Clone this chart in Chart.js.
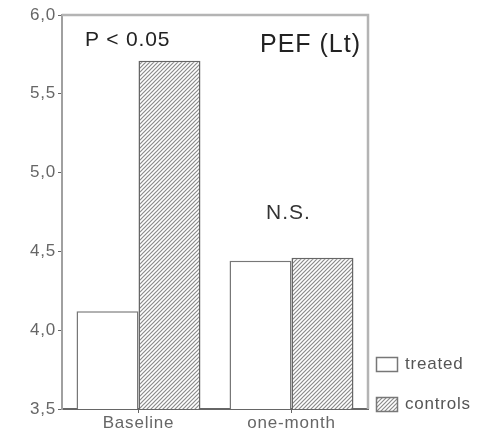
<!DOCTYPE html>
<html>
<head>
<meta charset="utf-8">
<script src="https://cdn.jsdelivr.net/npm/chart.js@4/dist/chart.umd.min.js"></script>
<style>
html,body{margin:0;padding:0;background:#fff;}
#wrap{width:477px;height:436px;position:relative;}
</style>
</head>
<body>
<div id="wrap"><canvas id="c" width="477" height="436"></canvas></div>
<script>
const categories = ["Baseline", "one-month"];
const treated = [4.12, 4.44];
const controls = [5.71, 4.46];
const yTicks = [3.5, 4.0, 4.5, 5.0, 5.5, 6.0];
const seriesNames = ["treated", "controls"];

function hatch() {
  const p = document.createElement('canvas');
  p.width = 4; p.height = 4;
  const g = p.getContext('2d');
  g.fillStyle = '#ffffff';
  g.fillRect(0, 0, 4, 4);
  g.strokeStyle = '#8a8a8a';
  g.lineWidth = 1.2;
  g.beginPath();
  g.moveTo(0, 4); g.lineTo(4, 0);
  g.moveTo(-1, 1); g.lineTo(1, -1);
  g.moveTo(3, 5); g.lineTo(5, 3);
  g.stroke();
  return g.createPattern(p, 'repeat');
}
const ctx = document.getElementById('c').getContext('2d');
const pat = hatch();
const FONT = "'Liberation Sans', Arial, sans-serif";
const LS = '0.8px';

const spacing = {
  id: 'spacing',
  beforeUpdate(chart) { chart.ctx.letterSpacing = LS; },
  beforeLayout(chart) { chart.ctx.letterSpacing = LS; },
  beforeDraw(chart) { chart.ctx.letterSpacing = LS; }
};

const extras = {
  id: 'extras',
  afterDraw(chart) {
    const c = chart.ctx, a = chart.chartArea;
    const x = chart.scales.x, y = chart.scales.y;
    c.save();
    // frame top and right
    c.strokeStyle = '#b4b4b4';
    c.lineWidth = 2.5;
    c.beginPath();
    c.moveTo(a.left, a.top); c.lineTo(a.right, a.top); c.lineTo(a.right, a.bottom);
    c.stroke();
    // annotations
    c.fillStyle = '#222';
    c.textBaseline = 'middle';
    c.textAlign = 'center';
    c.letterSpacing = '0.8px';
    c.font = "21px " + FONT;
    c.fillText('P < 0.05', x.getPixelForValue(0) - 11, y.getPixelForValue(5.84));
    c.letterSpacing = '1px';
    c.font = "25px " + FONT;
    c.fillText('PEF (Lt)', x.getPixelForValue(1) + 19, y.getPixelForValue(5.81));
    c.font = "21px " + FONT;
    c.fillStyle = '#333';
    c.fillText('N.S.', x.getPixelForValue(1) - 3, y.getPixelForValue(4.745));
    // legend
    const ds = chart.data.datasets;
    const lx = a.right + 8;
    const ly = [a.bottom - 45, a.bottom - 5];
    c.letterSpacing = LS;
    c.font = "17px " + FONT;
    c.textAlign = 'left';
    ds.forEach((d, i) => {
      const top = ly[i] - 7;
      c.fillStyle = d.backgroundColor;
      c.fillRect(lx, top, 22, 15);
      c.strokeStyle = '#777';
      c.lineWidth = 1.5;
      c.strokeRect(lx + 0.5, top + 0.5, 21, 14);
      c.fillStyle = '#555';
      c.fillText(d.label, lx + 29, ly[i]);
    });
    c.restore();
  }
};

new Chart(ctx, {
  type: 'bar',
  data: {
    labels: categories,
    datasets: [
      { label: seriesNames[0], data: treated, backgroundColor: '#ffffff', borderColor: '#777777', borderWidth: 1.5 },
      { label: seriesNames[1], data: controls, backgroundColor: pat, borderColor: '#666666', borderWidth: 1.5 }
    ]
  },
  options: {
    responsive: false,
    animation: false,
    layout: { padding: { top: 15, right: 109, left: 0, bottom: 0 } },
    plugins: { legend: { display: false }, tooltip: { enabled: false } },
    datasets: { bar: { barPercentage: 1.0, categoryPercentage: 0.81 } },
    scales: {
      x: {
        grid: { display: true, offset: false, drawOnChartArea: false, tickLength: 4, color: '#666' },
        border: { color: '#666', width: 2 },
        ticks: { color: '#666', font: { family: FONT, size: 17 }, padding: 0 },
        afterFit(s) { s.height = 27; }
      },
      y: {
        min: 3.5, max: 6.0,
        afterBuildTicks(s) { s.ticks = yTicks.map(v => ({ value: v })); },
        grid: { display: true, drawOnChartArea: false, tickLength: 4, color: '#666' },
        border: { color: '#a0a0a0', width: 2 },
        ticks: {
          color: '#666', font: { family: FONT, size: 17 }, padding: 2,
          callback: v => v.toFixed(1).replace('.', ',')
        },
        afterFit(s) { s.width = 62; }
      }
    }
  },
  plugins: [spacing, extras]
});
</script>
</body>
</html>
